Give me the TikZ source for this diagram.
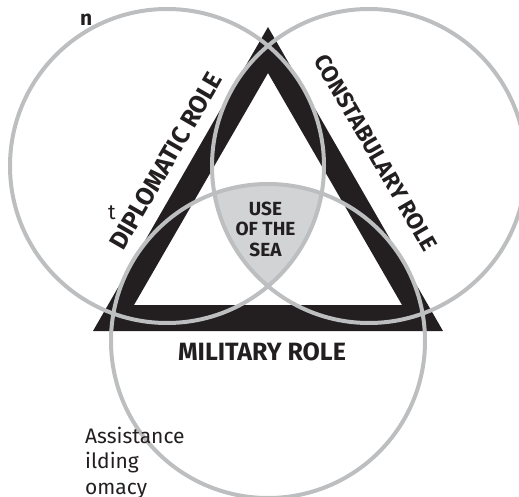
\documentclass[tikz,border=0pt]{standalone}
\usepackage{fontspec}
\setmainfont{Fira Sans}
\definecolor{inkblack}{HTML}{231F20}
\definecolor{ringgray}{HTML}{BCBEC0}
\definecolor{seagray}{HTML}{D1D3D4}
\begin{document}
\begin{tikzpicture}[x=1pt,y=-1pt,
  ring/.style={draw=ringgray,line width=4pt},
  rolelabel/.style={font=\fontsize{25}{25}\selectfont\bfseries,text=inkblack,inner sep=0pt},
  sealabel/.style={font=\fontsize{19}{20.5}\selectfont\bfseries,text=inkblack,inner sep=0pt,align=center},
  sidetext/.style={font=\fontsize{21}{21}\selectfont,text=inkblack,inner sep=0pt,anchor=base west}]
\useasboundingbox (0,0) rectangle (519,497);
\clip (0,0) rectangle (519,497);
% triangle corners (outer and inner)
\coordinate (oa) at (93,331);
\coordinate (ob) at (443,331);
\coordinate (oc) at (268,27);
\coordinate (ia) at (134,305);
\coordinate (ib) at (402,305);
\coordinate (ic) at (268,73);
% circle centres
\coordinate (cl) at (167,166);
\coordinate (cr) at (369,166);
\coordinate (cb) at (268,341);
% black triangular band
\fill[inkblack,even odd rule] (oa) -- (ob) -- (oc) -- cycle (ia) -- (ib) -- (ic) -- cycle;
% common area of the three roles
\begin{scope}
  \clip (cl) circle[radius=157pt];
  \clip (cr) circle[radius=157pt];
  \fill[seagray] (cb) circle[radius=157pt];
\end{scope}
% the three role circles
\draw[ring] (cl) circle[radius=157pt];
\draw[ring] (cr) circle[radius=157pt];
\draw[ring] (cb) circle[radius=157pt];
% labels
\node[rolelabel,rotate=60] (diplo) at (166,161) {DIPLOMATIC ROLE};
\node[rolelabel,font=\fontsize{23}{23}\selectfont\bfseries,rotate=-60] (const) at (376,153) {CONSTABULARY ROLE};
\node[rolelabel] (mil) at (262,352) {MILITARY ROLE};
\node[sealabel] (sea) at (265.5,229) {USE\\OF THE\\SEA};
% running text of the neighbouring column
\node[sidetext,font=\fontsize{21}{21}\selectfont\bfseries] (tn) at (80,26) {n};
\node[sidetext] (tt) at (108,219) {t};
\node[sidetext] (tassist) at (85,443) {Assistance};
\node[sidetext] (tbuild) at (85,468) {ilding};
\node[sidetext] (tdipl) at (85,494) {omacy};
\end{tikzpicture}
\end{document}
